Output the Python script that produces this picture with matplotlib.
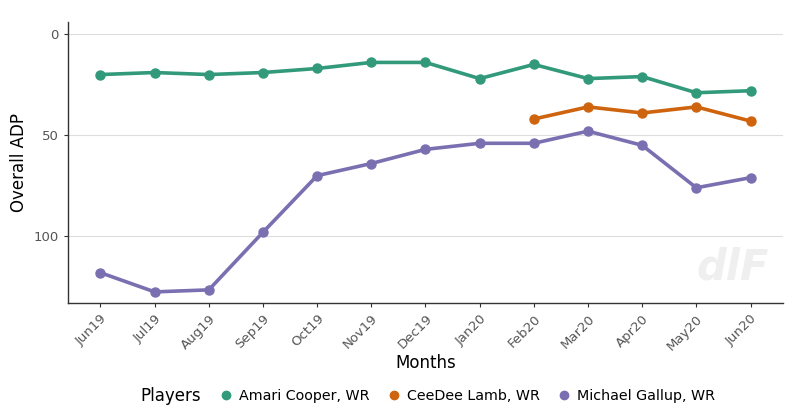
import numpy as np
import matplotlib
matplotlib.use("Agg")
import matplotlib.pyplot as plt
from matplotlib.lines import Line2D

months = ["Jun19", "Jul19", "Aug19", "Sep19", "Oct19", "Nov19", "Dec19",
          "Jan20", "Feb20", "Mar20", "Apr20", "May20", "Jun20"]

cooper = [20, 19, 20, 19, 17, 14, 14, 22, 15, 22, 21, 29, 28]
lamb_months = ["Feb20", "Mar20", "Apr20", "May20", "Jun20"]
lamb = [42, 36, 39, 36, 43]
gallup = [118, 127.5, 126.5, 98, 70, 64, 57, 54, 54, 48, 55, 76, 71]

players = ["Amari Cooper, WR", "CeeDee Lamb, WR", "Michael Gallup, WR"]
colors = ["#329a7a", "#cf640f", "#7a6fb0"]


def main():
    fig = plt.figure(figsize=(8.12, 4.18), dpi=100)
    ax = fig.add_axes([0.0837, 0.2751, 0.8806, 0.6723])

    x = np.arange(len(months))
    lamb_x = [months.index(m) for m in lamb_months]

    series = [(x, cooper), (lamb_x, lamb), (x, gallup)]
    for (xs, ys), c in zip(series, colors):
        ax.plot(xs, ys, color=c, lw=2.6, marker="o", ms=6.5,
                solid_capstyle="round", zorder=3)

    ax.set_xlim(-0.6, 12.6)
    ax.set_ylim(133, -6)
    ax.set_yticks([0, 50, 100])
    ax.set_xticks(x)
    ax.set_xticklabels(months, rotation=45, ha="right", rotation_mode="anchor")
    ax.tick_params(axis="both", colors="#333333", labelcolor="#555555",
                   labelsize=9.5, length=3)
    ax.grid(axis="y", color="#dddddd", lw=0.8)
    ax.set_axisbelow(True)
    for s in ["top", "right"]:
        ax.spines[s].set_visible(False)
    for s in ["left", "bottom"]:
        ax.spines[s].set_color("#333333")
        ax.spines[s].set_linewidth(1)

    ax.set_xlabel("Months", fontsize=12, labelpad=1)
    ax.set_ylabel("Overall ADP", fontsize=12)

    # watermark
    ax.text(0.93, 0.05, "dlF", transform=ax.transAxes, fontsize=30,
            fontweight="bold", style="italic", color="#efefef",
            ha="center", va="bottom", zorder=1)

    fig.text(140 / 812, 1 - 396 / 418, "Players", fontsize=12,
             ha="left", va="center")
    handles = [Line2D([], [], color=c, marker="o", ls="", ms=6)
               for c in colors]
    fig.legend(handles, players, loc="center left", ncol=3, frameon=False,
               bbox_to_anchor=(205 / 812, 1 - 396 / 418), fontsize=10.3,
               handletextpad=0.3, columnspacing=1.1, handlelength=1.2)

    fig.savefig("out.png", dpi=100)


if __name__ == "__main__":
    main()
